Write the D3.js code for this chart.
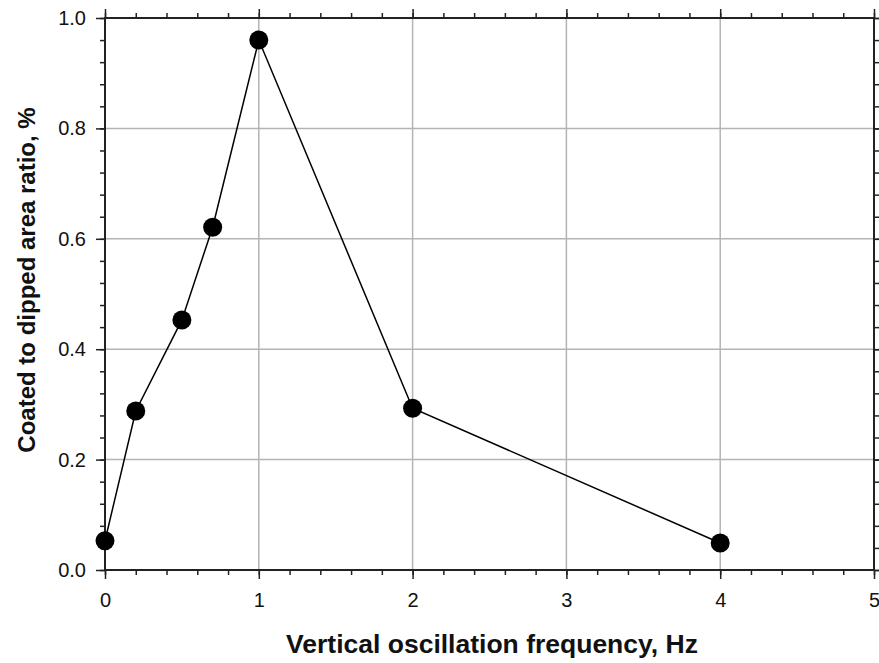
<!DOCTYPE html>
<html><head><meta charset="utf-8">
<script src="https://cdn.jsdelivr.net/npm/d3@7"></script>
<style>body{margin:0;background:#fff}svg{display:block}text{font-family:Arial,"Liberation Sans",sans-serif}</style>
</head><body>
<script>
const freq = [0, 0.2, 0.5, 0.7, 1, 2, 4];
const ratio = [0.053, 0.288, 0.453, 0.621, 0.960, 0.293, 0.049];
const xTicks = [0, 1, 2, 3, 4, 5];
const yTicks = [0.0, 0.2, 0.4, 0.6, 0.8, 1.0];
const xTitle = "Vertical oscillation frequency, Hz";
const yTitle = "Coated to dipped area ratio, %";

const W = 879, H = 663;
const m = {left:105, right:5, top:18, bottom:93};
const svg = d3.select("body").append("svg").attr("width", W).attr("height", H);
const x = d3.scaleLinear().domain([0,5]).range([m.left, W-m.right]);
const y = d3.scaleLinear().domain([0,1]).range([H-m.bottom, m.top]);
const iw = W-m.left-m.right, ih = H-m.top-m.bottom;

// grid
const g = svg.append("g");
g.selectAll(".gx").data(xTicks.slice(1,-1)).join("line")
  .attr("x1", d=>x(d)).attr("x2", d=>x(d)).attr("y1", y(0)).attr("y2", y(1))
  .attr("stroke", "#b4b4b4").attr("stroke-width", 1.5);
g.selectAll(".gy").data(yTicks.slice(1,-1)).join("line")
  .attr("y1", d=>y(d)).attr("y2", d=>y(d)).attr("x1", x(0)).attr("x2", x(5))
  .attr("stroke", "#b4b4b4").attr("stroke-width", 1.5);

const xMinor = d3.range(0, 5.001, 0.2);
const yMinor = d3.range(0, 1.0001, 0.04);

function styleAxis(sel){
  sel.select(".domain").remove();
  sel.selectAll(".tick line").attr("stroke", "#222").attr("stroke-width", 1.5);
  sel.selectAll("text").attr("font-size", 20).attr("fill", "#111");
}
// bottom
svg.append("g").attr("transform", `translate(0,${y(0)})`)
  .call(d3.axisBottom(x).tickValues(xMinor).tickSize(5).tickFormat(""))
  .call(styleAxis);
svg.append("g").attr("transform", `translate(0,${y(0)})`)
  .call(d3.axisBottom(x).tickValues(xTicks).tickSize(9).tickPadding(14).tickFormat(d3.format("d")))
  .call(styleAxis);
// top
svg.append("g").attr("transform", `translate(0,${y(1)})`)
  .call(d3.axisTop(x).tickValues(xMinor).tickSize(5).tickFormat(""))
  .call(styleAxis);
svg.append("g").attr("transform", `translate(0,${y(1)})`)
  .call(d3.axisTop(x).tickValues(xTicks).tickSize(9).tickFormat(""))
  .call(styleAxis);
// left
svg.append("g").attr("transform", `translate(${x(0)},0)`)
  .call(d3.axisLeft(y).tickValues(yMinor).tickSize(5).tickFormat(""))
  .call(styleAxis);
svg.append("g").attr("transform", `translate(${x(0)},0)`)
  .call(d3.axisLeft(y).tickValues(yTicks).tickSize(9).tickPadding(10).tickFormat(d3.format(".1f")))
  .call(styleAxis);
// right
svg.append("g").attr("transform", `translate(${x(5)},0)`)
  .call(d3.axisRight(y).tickValues(yMinor).tickSize(5).tickFormat(""))
  .call(styleAxis);
svg.append("g").attr("transform", `translate(${x(5)},0)`)
  .call(d3.axisRight(y).tickValues(yTicks).tickSize(9).tickFormat(""))
  .call(styleAxis);

// frame
svg.append("rect").attr("x", x(0)).attr("y", y(1)).attr("width", iw).attr("height", ih)
  .attr("fill", "none").attr("stroke", "#222").attr("stroke-width", 2);

// line and points
const data = freq.map((f,i)=>({f, r: ratio[i]}));
svg.append("path").datum(data)
  .attr("d", d3.line().x(d=>x(d.f)).y(d=>y(d.r)))
  .attr("fill", "none").attr("stroke", "#000").attr("stroke-width", 1.5);
svg.selectAll(".pt").data(data).join("circle")
  .attr("cx", d=>x(d.f)).attr("cy", d=>y(d.r)).attr("r", 9.5).attr("fill", "#000");

// titles
svg.append("text").attr("x", 492).attr("y", 653)
  .attr("text-anchor", "middle").attr("font-size", 26.5).attr("font-weight", "bold").attr("fill", "#111")
  .text(xTitle);
svg.append("text").attr("transform", `translate(35,280) rotate(-90)`)
  .attr("text-anchor", "middle").attr("font-size", 24).attr("font-weight", "bold").attr("fill", "#111")
  .text(yTitle);
</script>
</body></html>
